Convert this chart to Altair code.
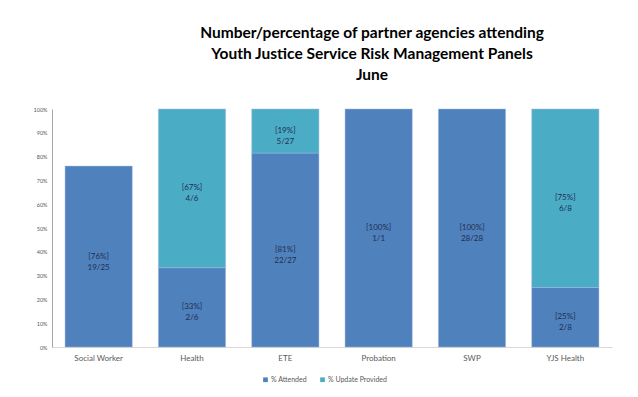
import altair as alt
import pandas as pd

categories = ["Social Worker", "Health", "ETE", "Probation", "SWP", "YJS Health"]
attended_n = [19, 2, 22, 1, 28, 2]
update_n = [0, 4, 5, 0, 0, 6]
totals = [25, 6, 27, 1, 28, 8]
series = ["% Attended", "% Update Provided"]
colors = ["#4F81BD", "#4BACC6"]
y_ticks = [0, 0.1, 0.2, 0.3, 0.4, 0.5, 0.6, 0.7, 0.8, 0.9, 1.0]

rows = []
for c, a, u, t in zip(categories, attended_n, update_n, totals):
    start = 0.0
    for i, (s, n) in enumerate(zip(series, [a, u])):
        if n == 0:
            continue
        p = n / t
        rows.append({
            "cat": c, "series": s, "ord": i, "pct": p,
            "mid": start + p / 2,
            "label": f"[{round(p * 100)}%]\n{n}/{t}",
        })
        start += p
df = pd.DataFrame(rows)

font = "Lato"

xscale = alt.Scale(paddingInner=0.28, paddingOuter=0.14)
xaxis = alt.Axis(labelAngle=0, labelFontSize=8, labelColor="#595959",
                 labelPadding=7, ticks=False, domainColor="#D9D9D9",
                 labelFont=font)
yscale = alt.Scale(domain=[0, 1], nice=False)
yaxis = alt.Axis(format=".0%", values=y_ticks,
                 grid=False, ticks=False, labelFontSize=5.5,
                 labelOverlap=False,
                 labelColor="#595959", labelPadding=5,
                 domainColor="#A6A6A6", labelFont=font)

bars = alt.Chart(df).mark_bar(stroke="#9CBBE0", strokeWidth=0.5).encode(
    x=alt.X("cat:N", sort=categories, title=None, scale=xscale, axis=xaxis),
    y=alt.Y("pct:Q", stack="zero", title=None, scale=yscale, axis=yaxis),
    color=alt.Color("series:N", sort=series,
                    scale=alt.Scale(domain=series, range=colors),
                    legend=alt.Legend(title=None, orient="none", direction="horizontal",
                                      legendX=210, legendY=267, symbolType="square",
                                      symbolSize=22, symbolStrokeWidth=0,
                                      labelFontSize=7, labelColor="#595959",
                                      labelFont=font, columnPadding=12, labelOffset=2)),
    order=alt.Order("ord:Q"),
)

text = alt.Chart(df).mark_text(lineBreak="\n", fontSize=8, color="#1F2F4F",
                               lineHeight=11, baseline="middle", font=font).encode(
    x=alt.X("cat:N", sort=categories, title=None, scale=xscale, axis=xaxis),
    y=alt.Y("mid:Q", title=None, scale=yscale, axis=yaxis),
    text="label:N",
)

chart = (bars + text).properties(
    width=560, height=238,
    title=alt.TitleParams(
        ["Number/percentage of partner agencies attending",
         "Youth Justice Service Risk Management Panels", "June"],
        fontSize=15.5, font=font, fontWeight="bold", color="#000000",
        anchor="middle", dx=40, offset=24, lineHeight=21,
    ),
    autosize=alt.AutoSizeParams(type="none"),
    padding={"left": 44, "top": 101, "right": 18, "bottom": 40},
).configure_view(stroke=None)

chart.save("out.html", embed_options={"renderer": "svg", "actions": False})
